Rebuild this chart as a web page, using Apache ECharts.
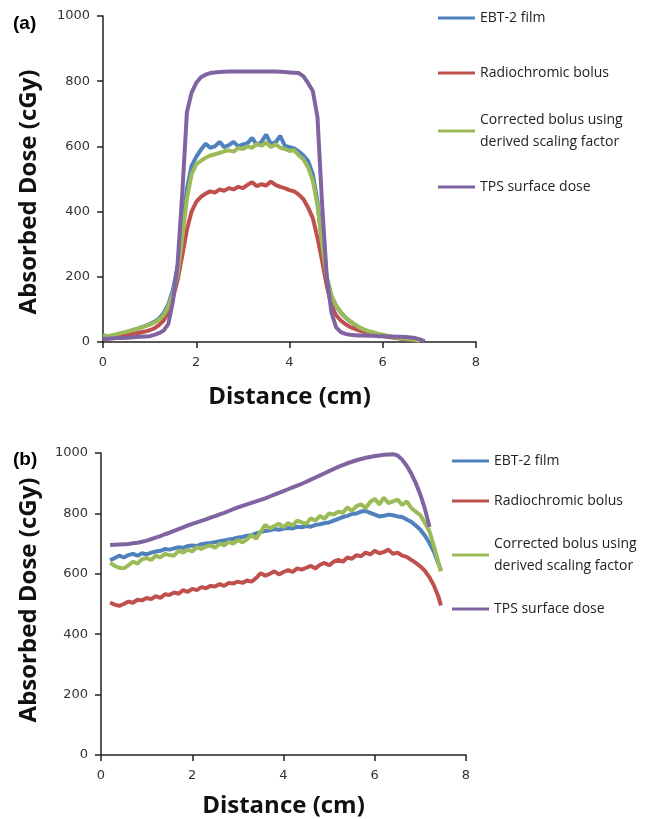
<!DOCTYPE html>
<html>
<head>
<meta charset="utf-8">
<script src="https://cdn.jsdelivr.net/npm/echarts@6/dist/echarts.min.js"></script>
<style>
  html, body { margin: 0; padding: 0; background: #fff; }
  #chart { width: 650px; height: 819px; }
</style>
</head>
<body>
<div id="chart"></div>
<script>
  // ---- panel (a): dose profile across the field ----
  var distA = [0, 0.1, 0.2, 0.3, 0.4, 0.5, 0.6, 0.7, 0.8, 0.9,
    1, 1.1, 1.2, 1.3, 1.4, 1.5, 1.6, 1.7, 1.8, 1.9,
    2, 2.1, 2.2, 2.3, 2.4, 2.5, 2.6, 2.7, 2.8, 2.9,
    3, 3.1, 3.2, 3.3, 3.4, 3.5, 3.6, 3.7, 3.8, 3.9,
    4, 4.1, 4.2, 4.3, 4.4, 4.5, 4.6, 4.7, 4.8, 4.9,
    5, 5.1, 5.2, 5.3, 5.4, 5.5, 5.6, 5.7, 5.8, 5.9,
    6, 6.1, 6.2, 6.3, 6.4, 6.5, 6.6, 6.7, 6.8, 6.9];

  var ebtA = [15, 17, 20, 23, 27, 31, 35, 39, 44, 49,
    55, 62, 72, 88, 115, 160, 230, 345, 470, 540,
    568, 590, 608, 596, 600, 614, 598, 604, 614, 600,
    606, 610, 626, 604, 614, 636, 608, 612, 632, 602,
    598, 594, 584, 572, 555, 515, 430, 300, 195, 140,
    110, 90, 75, 63, 53, 44, 37, 32, 28, 24,
    21, 18, 15, 13, 11, 9, 7, 5, 4];

  var bolusA = [8, 10, 12, 14, 17, 20, 23, 26, 29, 32,
    36, 42, 52, 66, 92, 135, 190, 265, 345, 400,
    430, 445, 455, 462, 458, 468, 464, 472, 468, 476,
    472, 482, 490, 478, 484, 480, 492, 482, 476, 472,
    466, 462, 452, 438, 412, 380, 320, 248, 172, 112,
    82, 66, 55, 46, 40, 35, 31, 27, 24, 21,
    18, 16, 14, 12, 10, 9, 7, 6, 4];

  var correctedA = [22, 18, 20, 24, 28, 31, 35, 39, 43, 48,
    53, 60, 68, 82, 108, 148, 210, 320, 440, 515,
    545, 556, 565, 572, 576, 580, 585, 588, 584, 595,
    592, 600, 596, 608, 602, 612, 598, 606, 596, 592,
    586, 588, 572, 560, 535, 495, 420, 300, 200, 142,
    112, 92, 76, 64, 54, 45, 38, 33, 29, 25,
    22, 19, 16, 14, 12, 10, 8, 6, 4];

  var tpsA = [10, 10, 11, 12, 12, 13, 14, 15, 16, 17,
    18, 22, 27, 35, 55, 125, 240, 455, 705, 765,
    795, 812, 820, 825, 827, 828, 829, 830, 830, 830,
    830, 830, 830, 830, 830, 830, 830, 830, 829, 828,
    827, 826, 825, 815, 794, 770, 690, 420, 200, 90,
    45, 30, 25, 22, 21, 20, 20, 19, 19, 18,
    18, 17, 17, 16, 16, 15, 14, 12, 8, 2];

  // ---- panel (b) ----
  var distB = [0.2, 0.3, 0.4, 0.5, 0.6, 0.7, 0.8, 0.9, 1, 1.1,
    1.2, 1.3, 1.4, 1.5, 1.6, 1.7, 1.8, 1.9, 2, 2.1,
    2.2, 2.3, 2.4, 2.5, 2.6, 2.7, 2.8, 2.9, 3, 3.1,
    3.2, 3.3, 3.4, 3.5, 3.6, 3.7, 3.8, 3.9, 4, 4.1,
    4.2, 4.3, 4.4, 4.5, 4.6, 4.7, 4.8, 4.9, 5, 5.1,
    5.2, 5.3, 5.4, 5.5, 5.6, 5.7, 5.8, 5.9, 6, 6.1,
    6.2, 6.3, 6.4, 6.5, 6.6, 6.7, 6.8, 6.9, 7, 7.1,
    7.2, 7.3, 7.4, 7.45];

  var ebtB = [645, 652, 660, 654, 662, 666, 660, 668, 664, 670,
    674, 676, 682, 680, 684, 688, 686, 692, 694, 692,
    698, 700, 702, 705, 708, 710, 714, 716, 720, 722,
    726, 728, 734, 738, 742, 744, 748, 746, 750, 752,
    750, 756, 754, 758, 756, 762, 764, 768, 770, 776,
    782, 788, 792, 798, 800, 806, 808, 802, 796, 790,
    792, 796, 794, 790, 788, 780, 772, 760, 746, 726,
    702, 672, 632, 612];

  var bolusB = [505, 498, 494, 500, 508, 504, 514, 512, 520, 516,
    526, 520, 532, 530, 538, 534, 546, 540, 550, 546,
    556, 552, 560, 558, 566, 560, 570, 568, 574, 570,
    578, 574, 586, 602, 594, 600, 608, 598, 606, 612,
    606, 618, 614, 620, 626, 618, 630, 636, 628, 640,
    646, 640, 654, 650, 662, 658, 670, 664, 676, 668,
    672, 680, 666, 670, 660, 656, 646, 636, 624, 610,
    588, 560, 522, 495];

  var correctedB = [636, 626, 620, 618, 628, 640, 634, 648, 652, 646,
    660, 654, 666, 662, 660, 676, 670, 680, 674, 688,
    682, 690, 694, 686, 700, 694, 706, 700, 712, 704,
    714, 728, 716, 740, 762, 750, 758, 766, 754, 768,
    760, 776, 770, 766, 784, 776, 792, 782, 800, 796,
    806, 802, 820, 808, 824, 830, 818, 838, 848, 830,
    852, 834, 840, 846, 828, 840, 818, 806, 794, 768,
    740, 690, 636, 608];

  var tpsB = [695, 696, 697, 698, 699, 701, 703, 706, 710, 715,
    720, 725, 731, 736, 742, 748, 754, 760, 765, 770,
    775, 780, 786, 791, 797, 802, 808, 814, 820, 825,
    830, 835, 840, 845, 850, 856, 862, 868, 874, 880,
    886, 892, 898, 905, 912, 919, 926, 933, 940, 947,
    954, 960, 966, 971, 976, 980, 984, 987, 990, 992,
    994, 995, 996, 992, 978, 958, 932, 900, 862, 815,
    755];

  var seriesNames = ['EBT-2 film', 'Radiochromic bolus', 'Corrected bolus using derived scaling factor', 'TPS surface dose'];
  var seriesColors = ['#4F81BD', '#C0504D', '#9BBB59', '#8064A2'];
  var xTicks = { min: 0, max: 8, interval: 2 };
  var yTicks = { min: 0, max: 1000, interval: 200 };

  function pairs(xs, ys) {
    return ys.map(function (y, i) { return [xs[i], y]; });
  }

  function lineSeries(idx, panel, xs, ys) {
    return {
      name: seriesNames[idx],
      type: 'line',
      xAxisIndex: panel,
      yAxisIndex: panel,
      data: pairs(xs, ys),
      symbol: 'none',
      z: 2 + idx,
      itemStyle: { color: seriesColors[idx] },
      lineStyle: { color: seriesColors[idx], width: 4 }
    };
  }

  var axisLineStyle = { color: '#222', width: 1.5 };
  var tickFont = { color: '#333', fontFamily: 'DejaVu Sans', fontSize: 13 };
  var titleFont = { fontFamily: 'Open Sans', fontWeight: 'bold', fontSize: 24, color: '#111' };

  function plain(v) { return String(v); }

  function xAxisFor(panel, gap) {
    return {
      type: 'value', gridIndex: panel,
      min: xTicks.min, max: xTicks.max, interval: xTicks.interval,
      axisLine: { show: true, lineStyle: axisLineStyle },
      axisTick: { show: true, length: 6, lineStyle: axisLineStyle },
      axisLabel: Object.assign({ margin: 14, formatter: plain }, tickFont),
      splitLine: { show: false },
      name: 'Distance (cm)', nameLocation: 'middle', nameGap: gap,
      nameTextStyle: titleFont
    };
  }

  // pad = [top, right, bottom, left] of the rotated name, used to nudge it along the axis
  function yAxisFor(panel, gap, pad) {
    return {
      type: 'value', gridIndex: panel,
      min: yTicks.min, max: yTicks.max, interval: yTicks.interval,
      axisLine: { show: true, lineStyle: axisLineStyle },
      axisTick: { show: true, length: 6, lineStyle: axisLineStyle },
      axisLabel: Object.assign({ margin: 13, formatter: plain }, tickFont),
      splitLine: { show: false },
      name: 'Absorbed Dose (cGy)', nameLocation: 'middle', nameGap: gap,
      nameTextStyle: Object.assign({ padding: pad }, titleFont)
    };
  }

  // one legend per entry so the odd vertical spacing of the original can be kept
  function legendItem(idx, left, top) {
    var two = idx === 2;
    return {
      data: [seriesNames[idx]],
      left: left, top: top, padding: 0,
      orient: 'vertical',
      selectedMode: false,
      icon: 'rect', itemWidth: 37, itemHeight: 3,
      formatter: function (n) {
        return two ? 'Corrected bolus using\nderived scaling factor' : n;
      },
      textStyle: {
        fontFamily: 'Open Sans', fontSize: 14, color: '#222',
        lineHeight: 22, padding: two ? [22, 0, 0, 0] : 0
      }
    };
  }

  var chart = echarts.init(document.getElementById('chart'));
  chart.setOption({
    animation: false,
    title: [
      { text: '(a)', left: 13, top: 14, padding: 0, textStyle: { fontFamily: 'Liberation Sans', fontWeight: 'bold', fontSize: 19, color: '#000' } },
      { text: '(b)', left: 13, top: 450, padding: 0, textStyle: { fontFamily: 'Liberation Sans', fontWeight: 'bold', fontSize: 19, color: '#000' } }
    ],
    grid: [
      { left: 103, top: 16, width: 373, height: 326 },
      { left: 101, top: 453, width: 365, height: 303 }
    ],
    xAxis: [xAxisFor(0, 43), xAxisFor(1, 39)],
    yAxis: [yAxisFor(0, 62, [0, 26, 0, 0]), yAxisFor(1, 60, [0, 0, 0, 8])],
    legend: [
      legendItem(0, 438, 7), legendItem(1, 438, 62), legendItem(2, 438, 98), legendItem(3, 438, 176),
      legendItem(0, 452, 450), legendItem(1, 452, 490), legendItem(2, 452, 522), legendItem(3, 452, 598)
    ],
    series: [
      lineSeries(0, 0, distA, ebtA),
      lineSeries(1, 0, distA, bolusA),
      lineSeries(2, 0, distA, correctedA),
      lineSeries(3, 0, distA, tpsA),
      lineSeries(0, 1, distB, ebtB),
      lineSeries(1, 1, distB, bolusB),
      lineSeries(2, 1, distB, correctedB),
      lineSeries(3, 1, distB, tpsB)
    ]
  });
</script>
</body>
</html>
